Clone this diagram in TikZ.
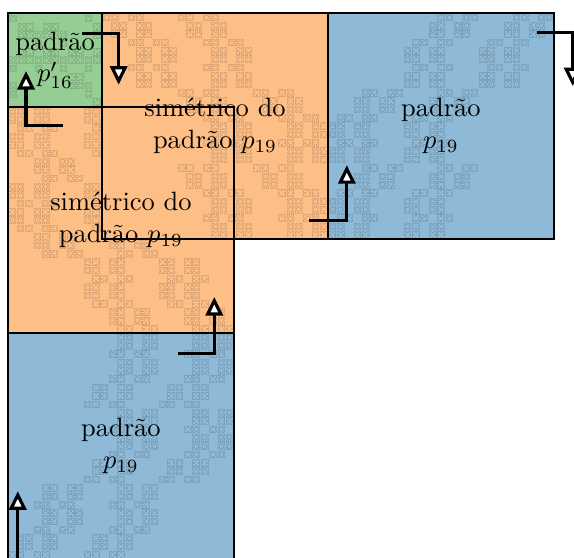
\documentclass[tikz,border=0pt]{standalone}
\usepackage{amsmath,amssymb}
\usepackage{xcolor}
\usepackage{tikz}
\usetikzlibrary{positioning,arrows.meta,backgrounds}
\definecolor{sqorange}{RGB}{253,191,134}
\definecolor{sqblue}{RGB}{142,185,215}
\definecolor{sqgreen}{RGB}{150,205,148}
% faint fractal texture: 3 levels of a 3x3 rule, one small notched tile per cell
\newcommand\fractex{%
  \foreach \a/\b in {0/0,1/0,1/1,2/1,1/2,2/2}
  \foreach \c/\d in {0/0,1/0,1/1,2/1,1/2,2/2}
  \foreach \e/\f in {0/0,1/0,1/1,2/1,1/2,2/2}
    \draw[tile] (9*\a+3*\c+\e, 9*\b+3*\d+\f) ++(0.1,0.1) -- ++(0.3,0) -- ++(0,0.15)
      -- ++(0.2,0) -- ++(0,-0.15) -- ++(0.3,0) -- ++(0,0.3) -- ++(-0.15,0) -- ++(0,0.2)
      -- ++(0.15,0) -- ++(0,0.3) -- ++(-0.3,0) -- ++(0,-0.15) -- ++(-0.2,0) -- ++(0,0.15)
      -- ++(-0.3,0) -- ++(0,-0.3) -- ++(0.15,0) -- ++(0,-0.2) -- ++(-0.15,0) -- cycle;}
\tikzset{
  sq/.style    = {draw, thick, minimum size=3cm, inner sep=0pt, outer sep=0pt, align=center},
  tile/.style  = {draw=black, draw opacity=0.12, line width=0.3pt},
  mytr/.style  = {#1},
  turn/.style  = {-{Triangle[length=7pt, width=6.5pt, fill=white]}, very thick},
}

\begin{document}
\begin{tikzpicture}
  \useasboundingbox (-0.106,-2.985) rectangle (7.517,4.424);
  % pieces
  \node[sq] (pb) at (1.5,-1.5)   {padrão\\$p_{19}$};
  \node[sq] (sl) at (1.5,1.5)    {simétrico do\\padrão $p_{19}$};
  \node[sq] (st) at (2.75,2.75)  {simétrico do\\padrão $p_{19}$};
  \node[sq, minimum size=1.25cm] (pg) at (0.625,3.625) {padrão\\$p'_{16}$};
  \node[sq] (pr) at (5.75,2.75)  {padrão\\$p_{19}$};
  % fills and fractal texture
  \begin{scope}[on background layer]
    \foreach \n/\c/\t in {pb/sqblue/xscale=1, sl/sqorange/xscale=-1, st/sqorange/yscale=-1,
                          pg/sqgreen/rotate=90, pr/sqblue/rotate=180} {
      \begin{scope}
        \fill[\c] (\n.south west) rectangle (\n.north east);
        \clip (\n.south west) rectangle (\n.north east);
        \begin{scope}[shift={(\n.center)}, mytr/.expand once=\t, x=0.1111cm, y=0.1111cm,
                      shift={(-13.5,-13.5)}]
          \fractex
        \end{scope}
      \end{scope}
    }
  \end{scope}
  % orientation marks
  \coordinate (g1) at (0.98,3.98);  \coordinate (g2) at (1.47,3.30);
  \coordinate (l1) at (0.73,2.76);  \coordinate (l2) at (0.24,3.48);
  \coordinate (t1) at (4.00,1.50);  \coordinate (t2) at (4.50,2.23);
  \coordinate (r1) at (7.02,3.99);  \coordinate (r2) at (7.50,3.28);
  \coordinate (b1) at (2.26,-0.27); \coordinate (b2) at (2.74,0.48);
  \coordinate (d1) at (0.13,-3.05); \coordinate (d2) at (0.13,-2.10);
  \draw[turn] (g1) -| (g2);
  \draw[turn] (l1) -| (l2);
  \draw[turn] (t1) -| (t2);
  \draw[turn] (r1) -| (r2);
  \draw[turn] (b1) -| (b2);
  \draw[turn] (d1) -- (d2);
\end{tikzpicture}
\end{document}
